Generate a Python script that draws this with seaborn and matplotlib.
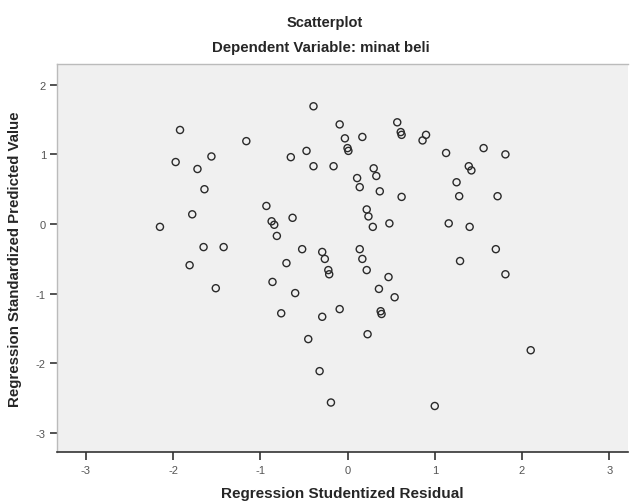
import pandas as pd
import matplotlib.pyplot as plt
import seaborn as sns

# Regression Studentized Residual (x) vs Regression Standardized Predicted Value (y)
resid = [-2.15, -1.92, -1.97, -1.72, -1.56, -1.64, -1.78, -1.65, -1.42, -1.81,
         -1.51, -1.16, -0.39, -0.65, -0.47, -0.39, -0.93, -0.87, -0.84, -0.81,
         -0.63, -0.52, -0.70, -0.86, -0.60, -0.76, -0.45, -0.32, -0.19, 1.00,
         2.10, -0.29, -0.26, -0.22, -0.21, 0.14, 0.17, 0.22, 0.47, 0.36,
         0.54, -0.09, -0.29, 0.38, 0.39, 0.23, 1.29, 1.70, 1.81, -0.09,
         -0.03, 0.00, 0.01, 0.17, -0.16, 0.57, 0.61, 0.62, 0.86, 0.90,
         0.30, 0.33, 0.11, 0.14, 0.37, 0.62, 0.22, 0.24, 0.29, 0.48,
         1.13, 1.56, 1.81, 1.39, 1.42, 1.25, 1.28, 1.72, 1.16, 1.40]
pred = [-0.04, 1.35, 0.89, 0.79, 0.97, 0.50, 0.14, -0.33, -0.33, -0.59,
        -0.92, 1.19, 1.69, 0.96, 1.05, 0.83, 0.26, 0.04, -0.01, -0.17,
        0.09, -0.36, -0.56, -0.83, -0.99, -1.28, -1.65, -2.11, -2.56, -2.61,
        -1.81, -0.40, -0.50, -0.66, -0.72, -0.36, -0.50, -0.66, -0.76, -0.93,
        -1.05, -1.22, -1.33, -1.25, -1.29, -1.58, -0.53, -0.36, -0.72, 1.43,
        1.23, 1.09, 1.05, 1.25, 0.83, 1.46, 1.32, 1.28, 1.20, 1.28,
        0.80, 0.69, 0.66, 0.53, 0.47, 0.39, 0.21, 0.11, -0.04, 0.01,
        1.02, 1.09, 1.00, 0.83, 0.77, 0.60, 0.40, 0.40, 0.01, -0.04]
xticks = [-3, -2, -1, 0, 1, 2, 3]
yticks = [2, 1, 0, -1, -2, -3]

sns.set_style("white")
plt.rcParams["font.family"] = ["Liberation Sans", "DejaVu Sans"]

df = pd.DataFrame({"resid": resid, "pred": pred})

fig = plt.figure(figsize=(6.3, 5.02), dpi=100)
ax = fig.add_axes([0.0905, 0.0976, 0.907, 0.772])
ax.set_facecolor("#f0f0f0")

sns.scatterplot(data=df, x="resid", y="pred", ax=ax, s=26,
                facecolor="none", edgecolor="#2a2a2a", linewidth=1.0)

ax.set_xlim(-3.33, 3.22)
ax.set_ylim(-3.27, 2.29)
ax.set_xticks(xticks)
ax.set_yticks(yticks)
ax.set_xticklabels([str(t) for t in xticks])
ax.set_yticklabels([str(t) for t in yticks])
ax.tick_params(axis="both", labelsize=8, labelcolor="#555555", width=1.2,
               color="#333333", direction="out", pad=3)
ax.tick_params(axis="x", bottom=True, length=6)
ax.tick_params(axis="y", left=True, length=5)

for side in ["top", "left"]:
    ax.spines[side].set_color("#bbbbbb")
    ax.spines[side].set_linewidth(1)
ax.spines["bottom"].set_color("#333333")
ax.spines["bottom"].set_linewidth(1.2)
ax.spines["right"].set_visible(False)

ax.set_xlabel("Regression Studentized Residual", fontsize=11, fontweight="bold",
              labelpad=8)
ax.set_ylabel("Regression Standardized Predicted Value", fontsize=10.8,
              fontweight="bold", labelpad=10)

fig.text(0.515, 0.955, "Scatterplot", ha="center", va="center",
         fontsize=10.5, fontweight="bold")
fig.text(0.51, 0.905, "Dependent Variable: minat beli", ha="center",
         va="center", fontsize=10.8, fontweight="bold")

fig.savefig("out.png", dpi=100, facecolor="white")
